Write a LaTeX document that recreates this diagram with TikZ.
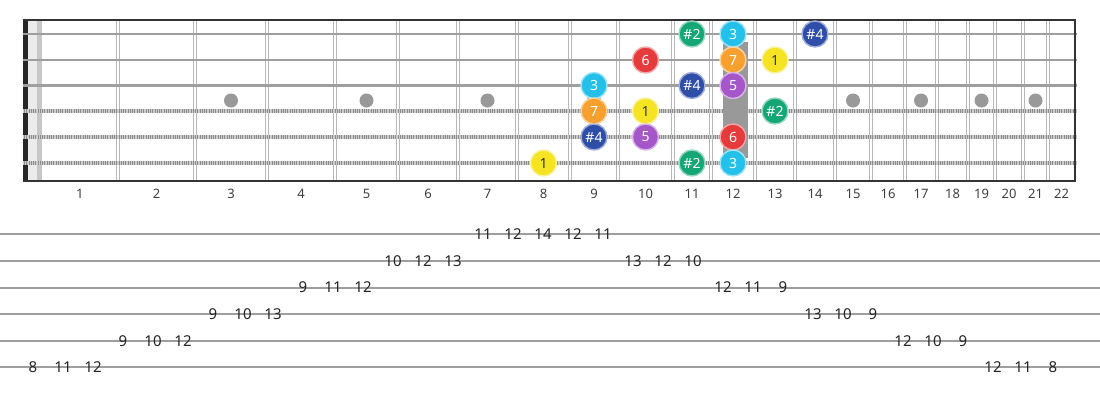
\documentclass[tikz,border=0pt]{standalone}
\usepackage{fontspec}
\setmainfont{Noto Sans}
\usepackage{tikz}
\usetikzlibrary{calc}

\definecolor{degRoot}{HTML}{F5E324}
\definecolor{degThird}{HTML}{25C0EA}
\definecolor{degFifth}{HTML}{A557C9}
\definecolor{degSixth}{HTML}{E63B3D}
\definecolor{degSeventh}{HTML}{F6A030}
\definecolor{degSharpTwo}{HTML}{14A674}
\definecolor{degSharpFour}{HTML}{2F4EA8}
\definecolor{boardInk}{HTML}{333333}

\tikzset{
	deg/.style={circle, minimum size=26pt, inner sep=0pt, line width=1.4pt,
		fill=#1, draw=#1!45!white, font=\fontsize{14}{14}\selectfont},
	fretnum/.style={font=\fontsize{13}{13}\selectfont, text=black!75, inner sep=0pt},
	tabnum/.style={font=\fontsize{15}{15}\selectfont, text=black!85, inner sep=0pt},
	fretwire/.style={black!28, line width=1.2pt},
	plainstring/.style={black!38, line width=2.6pt},
	woundstring/.style={black!45, line width=3.2pt},
	woundwire/.style={white, line width=3.2pt, dash pattern=on 0.8pt off 1pt, opacity=0.55},
	tabline/.style={black!38, line width=2pt}
}

\begin{document}
\begin{tikzpicture}[x=1pt, y=-1pt, line cap=butt]

	\useasboundingbox (0,0) rectangle (1100,400);
	\fill[white] (0,0) rectangle (1100,400);

	% frets and midpoints
	\coordinate (f0) at (41.5,20);
	\foreach \x [count=\n] in {118,195,267,335,398,458,517,570,618,673,711,755,795,835,871,905,937,968,995,1023,1048,1075}
		\coordinate (f\n) at (\x,20);
	\foreach \n [remember=\n as \p (initially 0)] in {1,...,22}
		\coordinate (m\n) at ($(f\p)!0.5!(f\n)$);

	% strings
	\foreach \s/\y in {1/34,2/60,3/85.5,4/111,5/137,6/163}
		\coordinate (s\s) at (23,\y);

	% nut
	\fill[black!85] (23,20) rectangle (27.5,181);
	\fill[black!8] (27.5,20) rectangle (37,181);
	\fill[black!22] (37,20) rectangle (41.5,181);

	\foreach \n in {1,...,21} {
		\draw[fretwire] ($(f\n)+(-1.6,0)$) -- ++(0,161);
		\draw[fretwire] ($(f\n)+(1.6,0)$) -- ++(0,161);
	}

	\foreach \s in {1,2,3}
		\draw[plainstring] (s\s) -- ++(1054,0);
	\foreach \s in {4,5,6} {
		\draw[woundstring] (s\s) -- ++(1054,0);
		\draw[woundwire] (s\s) -- ++(1054,0);
	}

	\draw[boardInk, line width=2pt] (23,20) -- (1076,20);
	\draw[boardInk, line width=2pt] (23,181) -- (1076,181);
	\draw[boardInk, line width=2pt] (f22) -- ++(0,161);

	% inlays
	\foreach \n in {3,5,7,9,15,17,19,21}
		\fill[black!40] ($(m\n)+(0,80.5)$) circle (7pt);
	\fill[black!40] (722.7,41.7) rectangle (748,157.7);

	% scale notes
	\foreach \s/\f/\lbl/\c/\tc in {
		1/11/\#2/degSharpTwo/white, 1/12/3/degThird/white, 1/14/\#4/degSharpFour/white,
		2/10/6/degSixth/white, 2/12/7/degSeventh/white, 2/13/1/degRoot/black!80,
		3/9/3/degThird/white, 3/11/\#4/degSharpFour/white, 3/12/5/degFifth/white,
		4/9/7/degSeventh/white, 4/10/1/degRoot/black!80, 4/13/\#2/degSharpTwo/white,
		5/9/\#4/degSharpFour/white, 5/10/5/degFifth/white, 5/12/6/degSixth/white,
		6/8/1/degRoot/black!80, 6/11/\#2/degSharpTwo/white, 6/12/3/degThird/white}
		\node[deg=\c, text=\tc] (n\s-\f) at (m\f |- s\s) {\lbl};

	\foreach \n in {1,...,22}
		\node[fretnum] (num\n) at ($(m\n)+(0,174)$) {\n};

	% tablature
	\foreach \s in {1,...,6} {
		\coordinate (tab\s) at (0,{234.3+26.6*(\s-1)});
		\draw[tabline] (tab\s) -- ++(1100,0);
	}
	\foreach \s/\f [count=\k from 0] in {6/8,6/11,6/12,5/9,5/10,5/12,4/9,4/10,4/13,
		3/9,3/11,3/12,2/10,2/12,2/13,1/11,1/12,1/14,1/12,1/11,2/13,2/12,2/10,
		3/12,3/11,3/9,4/13,4/10,4/9,5/12,5/10,5/9,6/12,6/11,6/8}
		\node[tabnum] (t\k) at ({33+30*\k},{234.3+26.6*(\s-1)}) {\f};

\end{tikzpicture}
\end{document}
